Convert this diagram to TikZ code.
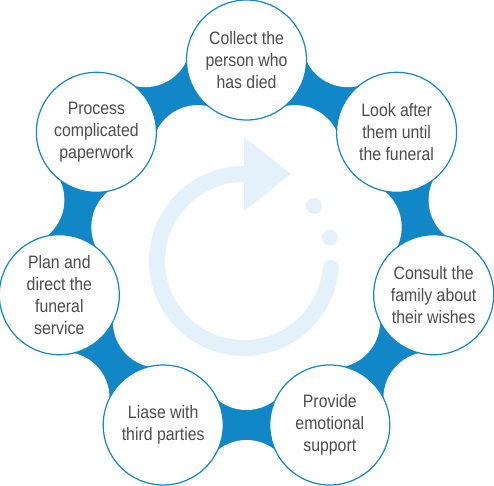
\documentclass[tikz,border=0pt]{standalone}
\usepackage{fontspec}
\setmainfont{Liberation Sans}[FakeStretch=0.88]
\usetikzlibrary{calc,backgrounds}
\definecolor{bandblue}{RGB}{17,135,199}
\definecolor{iconblue}{RGB}{228,241,250}
\definecolor{textgray}{RGB}{77,77,77}

\begin{document}
\begin{tikzpicture}[x=1pt,y=1pt,
  stage/.style={circle,draw=bandblue,line width=1.2pt,fill=white,minimum size=120pt,inner sep=0pt,outer sep=0pt,align=center,text=textgray,font=\fontsize{18}{22}\selectfont},
  neck/.style={fill=bandblue},
  cutout/.style={fill=white}]
\useasboundingbox (-246.5,-233) rectangle (247.5,252);

\node[stage] (collect) at (90:192) {Collect the\\person who\\has died};
\node[stage] (look) at (38.57:192) {Look after\\them until\\the funeral};
\node[stage] (consult) at (-12.86:192) {Consult the\\family about\\their wishes};
\node[stage] (support) at (-64.29:192) {Provide\\emotional\\support};
\node[stage] (liase) at (-115.71:192) {Liase with\\third parties};
\node[stage] (plan) at (-167.14:192) {Plan and\\direct the\\funeral\\service};
\node[stage] (paper) at (141.43:192) {Process\\complicated\\paperwork};

\coordinate (o1) at (64.29:234);   \coordinate (i1) at (64.29:112);
\coordinate (o2) at (12.86:234);   \coordinate (i2) at (12.86:112);
\coordinate (o3) at (-38.57:234);  \coordinate (i3) at (-38.57:112);
\coordinate (o4) at (-90:234);     \coordinate (i4) at (-90:112);
\coordinate (o5) at (-141.43:234); \coordinate (i5) at (-141.43:112);
\coordinate (o6) at (167.14:234);  \coordinate (i6) at (167.14:112);
\coordinate (o7) at (115.71:234);  \coordinate (i7) at (115.71:112);
\coordinate (ic) at (-2.5,-9);

\begin{scope}[on background layer]
% blue necks between the stages
\fill[neck] (collect.center) -- ($(collect.center)!59.5pt!(o1)$) -- ($(look.center)!59.5pt!(o1)$) -- (look.center) -- ($(look.center)!59.5pt!(i1)$) -- ($(collect.center)!59.5pt!(i1)$) -- cycle;
\fill[neck] (look.center) -- ($(look.center)!59.5pt!(o2)$) -- ($(consult.center)!59.5pt!(o2)$) -- (consult.center) -- ($(consult.center)!59.5pt!(i2)$) -- ($(look.center)!59.5pt!(i2)$) -- cycle;
\fill[neck] (consult.center) -- ($(consult.center)!59.5pt!(o3)$) -- ($(support.center)!59.5pt!(o3)$) -- (support.center) -- ($(support.center)!59.5pt!(i3)$) -- ($(consult.center)!59.5pt!(i3)$) -- cycle;
\fill[neck] (support.center) -- ($(support.center)!59.5pt!(o4)$) -- ($(liase.center)!59.5pt!(o4)$) -- (liase.center) -- ($(liase.center)!59.5pt!(i4)$) -- ($(support.center)!59.5pt!(i4)$) -- cycle;
\fill[neck] (liase.center) -- ($(liase.center)!59.5pt!(o5)$) -- ($(plan.center)!59.5pt!(o5)$) -- (plan.center) -- ($(plan.center)!59.5pt!(i5)$) -- ($(liase.center)!59.5pt!(i5)$) -- cycle;
\fill[neck] (plan.center) -- ($(plan.center)!59.5pt!(o6)$) -- ($(paper.center)!59.5pt!(o6)$) -- (paper.center) -- ($(paper.center)!59.5pt!(i6)$) -- ($(plan.center)!59.5pt!(i6)$) -- cycle;
\fill[neck] (paper.center) -- ($(paper.center)!59.5pt!(o7)$) -- ($(collect.center)!59.5pt!(o7)$) -- (collect.center) -- ($(collect.center)!59.5pt!(i7)$) -- ($(paper.center)!59.5pt!(i7)$) -- cycle;
\fill[cutout] (o1) circle (46) (i1) circle (46) (o2) circle (46) (i2) circle (46)
  (o3) circle (46) (i3) circle (46) (o4) circle (46) (i4) circle (46)
  (o5) circle (46) (i5) circle (46) (o6) circle (46) (i6) circle (46)
  (o7) circle (46) (i7) circle (46);

% the turning arrow in the middle
\draw[iconblue,line width=16pt,line cap=round] ($(ic)+(90:87)$) arc[start angle=90,end angle=355.4,radius=87];
\fill[iconblue] ($(ic)+(0,50)$) -- ($(ic)+(0,124)$) -- ($(ic)+(47,87)$) -- cycle;
\fill[iconblue] ($(ic)+(38.2:89)$) circle (8) ($(ic)+(15.2:89)$) circle (8);
\end{scope}
\end{tikzpicture}
\end{document}
